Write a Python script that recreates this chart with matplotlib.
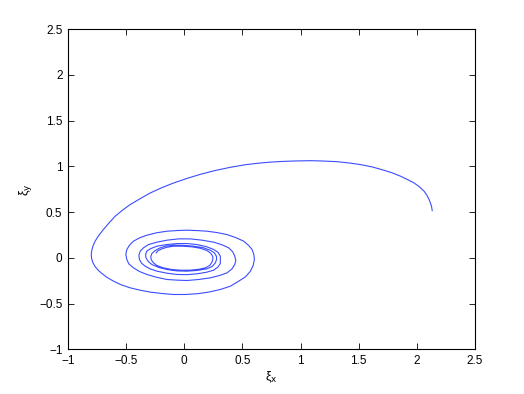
import matplotlib
matplotlib.use('Agg')
import matplotlib.pyplot as plt

# trajectory points (xi_x, xi_y), from start to end
xi_x = [2.132, 2.126, 2.106, 2.086, 2.063, 2.023, 1.977, 1.920, 1.862, 1.790,
        1.718, 1.618, 1.517, 1.417, 1.316, 1.201, 1.086, 0.957, 0.828, 0.741,
        0.655, 0.526, 0.397, 0.267, 0.138, 0.023, -0.092, -0.193, -0.293, -0.379,
        -0.466, -0.532, -0.595, -0.647, -0.696, -0.736, -0.767, -0.784, -0.795, -0.800,
        -0.797, -0.786, -0.768, -0.741, -0.710, -0.667, -0.609, -0.543, -0.466, -0.379, -0.293,
        -0.193, -0.092, 0.009, 0.109, 0.210, 0.310, 0.397, 0.468, 0.526, 0.569,
        0.592, 0.603, 0.598, 0.583, 0.554, 0.511, 0.448, 0.368, 0.282, 0.195,
        0.109, 0.023, -0.063, -0.149, -0.241, -0.322, -0.385, -0.437, -0.471, -0.494,
        -0.503, -0.494, -0.477, -0.437, -0.385, -0.322, -0.241, -0.149, -0.063, 0.023,
        0.124, 0.224, 0.304, 0.368, 0.411, 0.434, 0.443, 0.434, 0.417, 0.382,
        0.325, 0.253, 0.152, 0.052, -0.049, -0.149, -0.236, -0.308, -0.351, -0.379,
        -0.391, -0.385, -0.368, -0.336, -0.293, -0.236, -0.149, -0.063, 0.023, 0.109,
        0.190, 0.253, 0.290, 0.310, 0.310, 0.290, 0.253, 0.190, 0.109, 0.023,
        -0.063, -0.150, -0.236, -0.290, -0.322, -0.332, -0.330, -0.310, -0.279, -0.220,
        -0.149, -0.063, 0.023, 0.110, 0.195, 0.240, 0.267, 0.278, 0.276, 0.258,
        0.224, 0.160, 0.080, -0.006, -0.092, -0.160, -0.207, -0.250, -0.279, -0.288,
        -0.285, -0.265, -0.236, -0.180, -0.106, -0.025, 0.052, 0.125, 0.181, 0.220,
        0.238, 0.246, 0.244, 0.225, 0.195, 0.135, 0.066, -0.010, -0.092, -0.150,
        -0.193, -0.228, -0.241]
xi_y = [0.516, 0.564, 0.636, 0.684, 0.727, 0.775, 0.818, 0.855, 0.891, 0.928,
        0.957, 0.993, 1.019, 1.037, 1.051, 1.058, 1.062, 1.059, 1.053, 1.046,
        1.037, 1.018, 0.990, 0.955, 0.913, 0.868, 0.818, 0.767, 0.709, 0.647,
        0.582, 0.520, 0.454, 0.382, 0.309, 0.244, 0.182, 0.133, 0.085, 0.038,
        -0.008, -0.052, -0.094, -0.135, -0.170, -0.212, -0.255, -0.295, -0.328, -0.354, -0.375,
        -0.390, -0.401, -0.401, -0.393, -0.375, -0.346, -0.310, -0.255, -0.208, -0.146,
        -0.084, -0.019, 0.036, 0.091, 0.134, 0.182, 0.218, 0.254, 0.276, 0.291,
        0.298, 0.302, 0.298, 0.291, 0.273, 0.247, 0.218, 0.182, 0.138, 0.091,
        0.036, -0.019, -0.066, -0.110, -0.150, -0.182, -0.212, -0.237, -0.244, -0.248,
        -0.237, -0.219, -0.193, -0.164, -0.120, -0.073, -0.030, 0.018, 0.065, 0.109,
        0.142, 0.171, 0.193, 0.207, 0.207, 0.193, 0.171, 0.145, 0.109, 0.073,
        0.025, -0.019, -0.059, -0.092, -0.121, -0.146, -0.168, -0.182, -0.184, -0.175,
        -0.158, -0.135, -0.100, -0.062, 0.018, 0.060, 0.091, 0.122, 0.145, 0.156,
        0.156, 0.145, 0.127, 0.100, 0.073, 0.040, 0.000, -0.040, -0.073, -0.105,
        -0.128, -0.143, -0.146, -0.138, -0.120, -0.095, -0.055, -0.015, 0.018, 0.055,
        0.083, 0.112, 0.127, 0.136, 0.138, 0.128, 0.109, 0.080, 0.047, 0.015,
        -0.019, -0.055, -0.084, -0.110, -0.128, -0.136, -0.135, -0.125, -0.110, -0.082,
        -0.048, -0.015, 0.018, 0.052, 0.080, 0.105, 0.120, 0.127, 0.127, 0.115,
        0.098, 0.076, 0.054]

x_ticks = [-1, -0.5, 0, 0.5, 1, 1.5, 2, 2.5]
y_ticks = [-1, -0.5, 0, 0.5, 1, 1.5, 2, 2.5]
tick_labels = ['\u22121', '\u22120.5', '0', '0.5', '1', '1.5', '2', '2.5']

plt.rcParams['font.family'] = ['Liberation Sans', 'DejaVu Sans']

fig = plt.figure(figsize=(5.24, 3.94), dpi=100)
ax = fig.add_axes([0.1298, 0.1135, 0.7767, 0.8125])

ax.plot(xi_x, xi_y, color='#3b4dff', lw=0.8, solid_joinstyle='round')

ax.set_xlim(-1, 2.5)
ax.set_ylim(-1, 2.5)
ax.set_xticks(x_ticks)
ax.set_yticks(y_ticks)
ax.set_xticklabels(tick_labels)
ax.set_yticklabels(tick_labels)
ax.tick_params(direction='in', length=4, width=0.6, labelsize=8.5, top=True, right=True, pad=4)
for s in ax.spines.values():
    s.set_linewidth(0.8)

ax.set_xlabel('\u03be$_\\mathrm{x}$', fontsize=9, labelpad=2)
ax.set_ylabel('\u03be$_\\mathrm{y}$', fontsize=9, labelpad=4)

fig.savefig('out.png', dpi=100)
